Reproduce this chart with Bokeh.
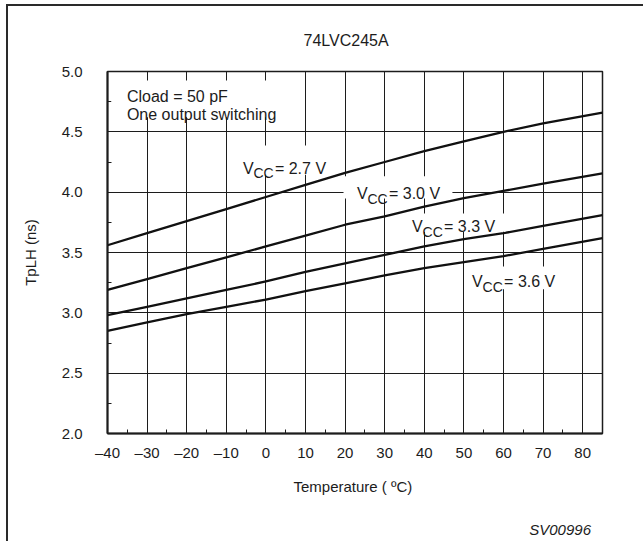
from bokeh.plotting import figure
from bokeh.models import Range1d, FixedTicker, Label, BoxAnnotation, Div
from bokeh.layouts import column
from bokeh.embed import file_html
from bokeh.resources import INLINE

# ---- data ----
temps = [-40, -30, -20, -10, 0, 10, 20, 30, 40, 50, 60, 70, 85]
tplh_27 = [3.56, 3.66, 3.76, 3.86, 3.96, 4.06, 4.16, 4.25, 4.34, 4.42, 4.50, 4.57, 4.66]
tplh_30 = [3.19, 3.28, 3.37, 3.46, 3.55, 3.64, 3.73, 3.80, 3.88, 3.95, 4.01, 4.07, 4.155]
tplh_33 = [2.98, 3.05, 3.12, 3.19, 3.26, 3.34, 3.41, 3.48, 3.55, 3.61, 3.66, 3.72, 3.81]
tplh_36 = [2.85, 2.92, 2.99, 3.05, 3.11, 3.18, 3.245, 3.31, 3.37, 3.42, 3.47, 3.53, 3.62]
series_values = [tplh_27, tplh_30, tplh_33, tplh_36]
vcc_names = ["2.7", "3.0", "3.3", "3.6"]

x_ticks = [-40, -30, -20, -10, 0, 10, 20, 30, 40, 50, 60, 70, 80]
x_tick_labels = ["\u201340", "\u201330", "\u201320", "\u201310", "0", "10", "20", "30", "40", "50", "60", "70", "80"]
x_minor = [-35, -25, -15, -5, 5, 15, 25, 35, 45, 55, 65, 75]
y_ticks = [2.0, 2.5, 3.0, 3.5, 4.0, 4.5, 5.0]
y_tick_labels = ["2.0", "2.5", "3.0", "3.5", "4.0", "4.5", "5.0"]
y_minor = [2.25, 2.75, 3.25, 3.75, 4.25, 4.75]

FONT = "Liberation Sans"
INK = "#1c1c1c"

p = figure(width=635, height=502, output_backend="svg", toolbar_location=None,
           x_range=Range1d(-40, 85), y_range=Range1d(2.0, 5.0),
           min_border_left=99, min_border_right=41, min_border_top=65, min_border_bottom=75)
p.background_fill_color = "white"
p.border_fill_color = "white"
p.outline_line_color = INK
p.outline_line_width = 1.5

# title
p.title.text = "74LVC245A"
p.title.align = "left"
p.title.offset = 196
p.title.standoff = 46
p.title.text_font = FONT
p.title.text_font_size = "16px"
p.title.text_font_style = "normal"
p.title.text_color = INK

# axes
for ax in (p.xaxis[0], p.yaxis[0]):
    ax.axis_line_color = INK
    ax.axis_line_width = 2
    ax.major_tick_in = 0
    ax.major_tick_out = 0
    ax.minor_tick_in = 4
    ax.minor_tick_out = 0
    ax.minor_tick_line_color = INK
    ax.major_label_text_font = FONT
    ax.major_label_text_font_size = "15px"
    ax.major_label_text_color = INK
    ax.axis_label_text_font = FONT
    ax.axis_label_text_font_size = "15px"
    ax.axis_label_text_font_style = "normal"
    ax.axis_label_text_color = INK

p.xaxis.ticker = FixedTicker(ticks=x_ticks, minor_ticks=x_minor)
p.xaxis.major_label_overrides = dict(zip(x_ticks, x_tick_labels))
p.xaxis.major_label_standoff = 10
p.xaxis.axis_label = "Temperature  ( \u00baC)"
p.xaxis.axis_label_standoff = 14

p.yaxis.ticker = FixedTicker(ticks=y_ticks, minor_ticks=y_minor)
p.yaxis.major_label_overrides = dict(zip(y_ticks, y_tick_labels))
p.yaxis.major_label_standoff = 25
p.yaxis.axis_label = "TpLH (ns)"
p.yaxis.axis_label_standoff = 20

p.xgrid.ticker = FixedTicker(ticks=x_ticks)
p.ygrid.ticker = FixedTicker(ticks=y_ticks)
for g in (p.xgrid[0], p.ygrid[0]):
    g.grid_line_color = INK
    g.grid_line_width = 1

# curves
for vals in series_values:
    p.line(temps, vals, line_color="#111111", line_width=2.3)

# white boxes behind the annotations (they mask the grid, as in the original)
mask_boxes = [
    (-39.0, 4.0, 4.62, 4.925),     # condition note
    (-7.5, 16.8, 4.145, 4.387),    # VCC 2.7
    (19.6, 47.1, 3.948, 4.131),    # VCC 3.0
    (35.2, 60.5, 3.672, 3.824),    # VCC 3.3
    (50.4, 75.1, 3.195, 3.385),    # VCC 3.6
]
for l, r, b, t in mask_boxes:
    p.add_layout(BoxAnnotation(left=l, right=r, bottom=b, top=t, fill_color="white",
                               fill_alpha=1.0, line_color=None))

# condition note
p.add_layout(Label(x=-35.1, y=4.79, text="Cload = 50 pF", text_font=FONT,
                   text_font_size="16px", text_color=INK, text_baseline="alphabetic"))
p.add_layout(Label(x=-35.1, y=4.645, text="One output switching", text_font=FONT,
                   text_font_size="16px", text_color=INK, text_baseline="alphabetic"))

# VCC labels (V + subscript CC + rest)
label_pos = [(-5.8, 4.197), (23.0, 3.987), (36.9, 3.712), (52.07, 3.256)]
for (lx, ly), name in zip(label_pos, vcc_names):
    p.add_layout(Label(x=lx, y=ly, text="V", text_font=FONT, text_font_size="16px",
                       text_color=INK, text_baseline="alphabetic"))
    p.add_layout(Label(x=lx, y=ly, x_offset=10.5, y_offset=-5, text="CC", text_font=FONT,
                       text_font_size="14px", text_color=INK, text_baseline="alphabetic"))
    p.add_layout(Label(x=lx, y=ly, x_offset=32, text="= " + name + " V", text_font=FONT,
                       text_font_size="16px", text_color=INK, text_baseline="alphabetic"))

# figure code in the lower right corner of the sheet
note = Div(text=('<div style="display:block;width:583px;text-align:right;padding-top:13px;'
                 "font-family:'Liberation Sans';font-size:15px;font-style:italic;"
                 'color:#1c1c1c;line-height:17px;">SV00996</div>'),
           width=635, height=33, margin=0)

sheet = column(p, note, spacing=0,
               styles={"margin-left": "6px", "margin-top": "4px", "background-color": "white",
                       "border-left": "2px solid #2a2a2a", "border-top": "2px solid #2a2a2a"})

open("out.html", "w").write(file_html(sheet, INLINE))
